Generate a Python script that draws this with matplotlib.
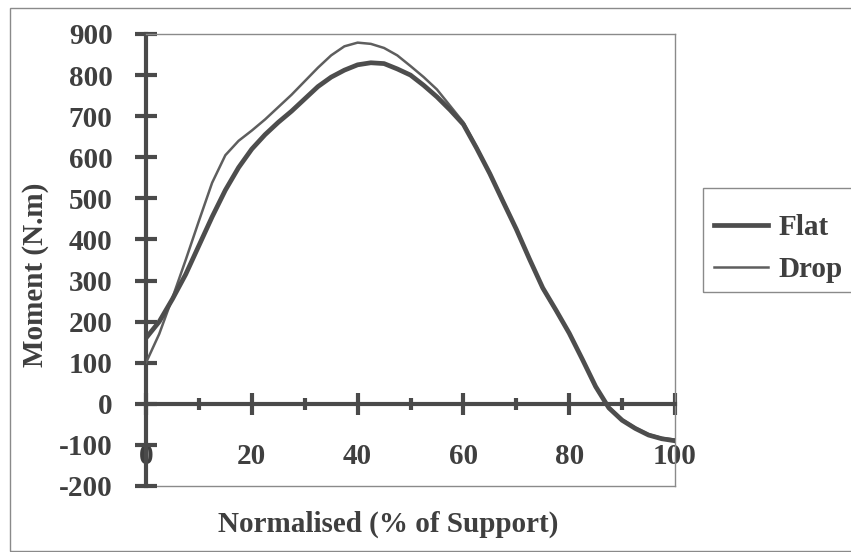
import matplotlib
matplotlib.use("Agg")
import matplotlib.pyplot as plt
from matplotlib.patches import Rectangle
from matplotlib.ticker import MultipleLocator, FuncFormatter

# Support-phase moment, sampled every 2.5 % of support
support_pct = [0, 2.5, 5, 7.5, 10, 12.5, 15, 17.5, 20, 22.5, 25, 27.5, 30, 32.5,
               35, 37.5, 40, 42.5, 45, 47.5, 50, 52.5, 55, 57.5, 60, 62.5, 65,
               67.5, 70, 72.5, 75, 77.5, 80, 82.5, 85, 87.5, 90, 92.5, 95, 97.5, 100]

flat_moment = [160, 200, 255, 315, 385, 455, 520, 575, 620, 655, 685, 712, 742, 772,
               795, 812, 825, 830, 828, 815, 800, 775, 747, 715, 680, 622, 560,
               492, 425, 352, 282, 228, 172, 108, 42, -10, -40, -60, -76, -85, -90]

drop_moment = [100, 170, 258, 350, 445, 538, 605, 640, 665, 692, 722, 752, 785, 818,
               848, 870, 879, 876, 866, 848, 822, 795, 765, 725, 685, 625, 562,
               495, 425, 352, 280, 226, 172, 108, 40, -8, -38, -58, -74, -83, -87]

series_names = ["Flat", "Drop"]
x_ticks = [0, 20, 40, 60, 80, 100]
y_ticks = list(range(-200, 901, 100))

INK = "#3f3f3f"
AXIS = "#4a4a4a"
FRAME = "#8a8a8a"
SERIF = ["Liberation Serif", "DejaVu Serif"]
FS = 21

W, H = 851, 552
fig = plt.figure(figsize=(W / 100, H / 100), dpi=100)
fig.patch.set_facecolor("white")

def fx(px):
    return px / W

def fy(py):
    return 1 - py / H

# outer chart border (runs past the right edge)
fig.patches.append(Rectangle((fx(10), fy(551)), fx(880) - fx(10), fy(8) - fy(551),
                             transform=fig.transFigure, fill=False,
                             edgecolor=FRAME, linewidth=1.0))

ax = fig.add_axes([fx(146), fy(486), fx(675) - fx(146), fy(34) - fy(486)])
ax.set_xlim(0, 100)
ax.set_ylim(-200, 900)

ax.plot(support_pct, flat_moment, color="#4d4d4d", lw=3.4, label=series_names[0],
        solid_joinstyle="round", zorder=4)
ax.plot(support_pct, drop_moment, color="#5e5e5e", lw=1.8, label=series_names[1],
        solid_joinstyle="round", zorder=3)

# frame: thick axes through the origin, thin border elsewhere
for side in ("top", "right"):
    ax.spines[side].set_color(FRAME)
    ax.spines[side].set_linewidth(1.0)
ax.spines["left"].set_linewidth(3.0)
ax.spines["left"].set_color(AXIS)
ax.spines["bottom"].set_position(("data", 0))
ax.spines["bottom"].set_linewidth(3.0)
ax.spines["bottom"].set_color(AXIS)
ax.plot([0, 1], [0, 0], transform=ax.transAxes, color=FRAME, lw=1.0,
        clip_on=False, zorder=1)

plain = FuncFormatter(lambda v, _: f"{int(round(v))}")
ax.set_yticks(y_ticks)
ax.set_xticks(x_ticks)
ax.yaxis.set_major_formatter(plain)
ax.xaxis.set_major_formatter(plain)
ax.xaxis.set_minor_locator(MultipleLocator(10))
ax.tick_params(axis="y", direction="inout", length=16, width=3, color=AXIS,
               pad=16, labelsize=FS, labelcolor=INK)
ax.tick_params(axis="x", which="major", direction="inout", length=16, width=3,
               color=AXIS, pad=20, labelsize=FS, labelcolor=INK)
ax.tick_params(axis="x", which="minor", direction="inout", length=9, width=3,
               color=AXIS)
for lab in ax.get_xticklabels() + ax.get_yticklabels():
    lab.set_fontfamily(SERIF)
    lab.set_fontweight("bold")

fig.text(fx(388), fy(524), "Normalised (% of Support)", ha="center", va="center",
         fontsize=FS, fontweight="bold", family=SERIF, color=INK)
fig.text(fx(36), fy(275), "Moment (N.m)", ha="center", va="center", rotation=90,
         fontsize=FS, fontweight="bold", family=SERIF, color=INK)

# legend box (also cut by the right edge)
fig.patches.append(Rectangle((fx(703), fy(292)), fx(880) - fx(703), fy(188) - fy(292),
                             transform=fig.transFigure, fill=False,
                             edgecolor=FRAME, linewidth=1.0))
leg = fig.legend(loc="upper left", bbox_to_anchor=(fx(694), fy(194)),
                 frameon=False, handlelength=1.85, handletextpad=0.35,
                 labelspacing=0.5, borderpad=0.2,
                 prop={"family": SERIF, "weight": "bold", "size": FS})
for t in leg.get_texts():
    t.set_color(INK)

fig.savefig("out.png", dpi=100)
